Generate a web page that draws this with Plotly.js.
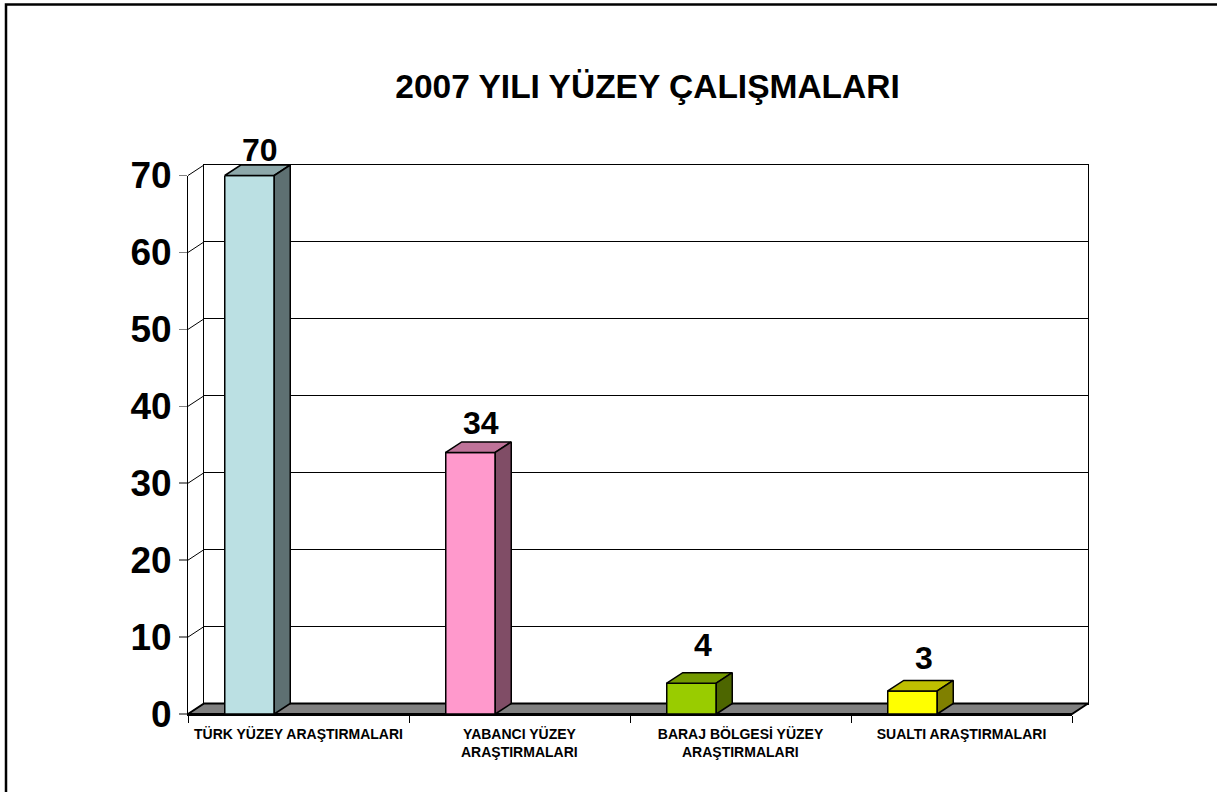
<!DOCTYPE html>
<html><head><meta charset="utf-8">
<script src="https://cdn.plot.ly/plotly-3.0.1.min.js"></script>
<style>html,body{margin:0;padding:0;background:#fff}#c{width:1217px;height:792px}</style>
</head><body><div id="c"></div>
<script>
const chartTitle = '2007 YILI YÜZEY ÇALIŞMALARI';
const labelLine1 = ['TÜRK YÜZEY ARAŞTIRMALARI', 'YABANCI YÜZEY', 'BARAJ BÖLGESİ YÜZEY', 'SUALTI ARAŞTIRMALARI'];
const labelLine2 = ['', 'ARAŞTIRMALARI', 'ARAŞTIRMALARI', ''];
const values = [70, 34, 4, 3];
const frontColors = ['#BBE0E3', '#FF99CC', '#99CC00', '#FFFF00'];
const topColors = ['#8DA8AA', '#BF7399', '#739900', '#BFBF00'];
const sideColors = ['#5E7072', '#804D66', '#4D6600', '#808000'];
const yTicks = [0, 10, 20, 30, 40, 50, 60, 70];
const catEdges = [0, 1, 2, 3, 4];

const pad = 4, W = 908, H = 557, mL = 184, mT = 161;
const depthPxX = 16, depthPxY = 10.5, frontW = 884, frontH = 538.5;
const kx = frontW / 4, ky = frontH / 70;
const dx = depthPxX / kx, dy = depthPxY / ky;
const barOffset = 61.5 / 221, barWidth = 49.5 / 221;
const edge = {color: '#000', width: 1.5};
const envX = [-pad / kx, 4 + dx + pad / kx], envY = [-pad / ky, 70 + dy + pad / ky];

const poly = (axes, x, y, fillcolor, line) => Object.assign({type: 'scatter', mode: 'lines', hoverinfo: 'skip', showlegend: false,
  x, y, fill: fillcolor ? 'toself' : 'none', fillcolor, line}, axes);
const under = {xaxis: 'x2', yaxis: 'y2'}, over = {xaxis: 'x4', yaxis: 'y4'};

const traces = [];
// invisible trace keeps the back plane subplot alive
traces.push({xaxis: 'x', yaxis: 'y', type: 'scatter', mode: 'none', x: [0], y: [0], hoverinfo: 'skip', showlegend: false});
traces.push(poly(under, [0, 4, 4 + dx, dx, 0], [0, 0, dy, dy, 0], '#808080', {color: '#000', width: 2}));
const dxs = [], dys = [];
yTicks.forEach(v => { dxs.push(0, dx, null); dys.push(v, v + dy, null); });
traces.push(poly(under, dxs, dys, null, {color: '#000', width: 1}));
traces.push({xaxis: 'x3', yaxis: 'y3', type: 'bar', showlegend: false, cliponaxis: false,
  x: values.map((v, i) => i + barOffset), y: values, width: barWidth,
  marker: {color: frontColors, line: edge}});
values.forEach((v, i) => {
  const l = i + barOffset - barWidth / 2, r = l + barWidth;
  traces.push(poly(over, [l, r, r + dx, l + dx, l], [v, v, v + dy, v + dy, v], topColors[i], edge));
  traces.push(poly(over, [r, r + dx, r + dx, r, r], [0, dy, v + dy, v, 0], sideColors[i], edge));
});

const valueShiftX = [2.5, 2, 3, 3];
const valueGap = [2.3, 6, 15, 9];
const annotations = values.map((v, i) => ({
  xref: 'x4', yref: 'y4', x: i + barOffset + dx / 2, y: v + dy, text: String(v), showarrow: false,
  xanchor: 'center', yanchor: 'bottom', xshift: valueShiftX[i], yshift: valueGap[i] - 7,
  font: {family: 'Liberation Sans', size: 32, color: '#000', weight: 700}
}));
labelLine2.forEach((t, i) => {
  if (!t) return;
  annotations.push({xref: 'x4', yref: 'y4', x: i + 0.5, y: 0, text: t, showarrow: false,
    xanchor: 'center', yanchor: 'middle', yshift: -38, font: {family: 'Liberation Sans', size: 14, color: '#000', weight: 700}});
});

const hidden = {showgrid: false, zeroline: false, showticklabels: false, ticks: '', showline: false, fixedrange: true};
const layout = {
  width: 1217, height: 792, autosize: false, showlegend: false,
  paper_bgcolor: '#fff', plot_bgcolor: 'rgba(0,0,0,0)',
  margin: {l: mL, r: 1217 - mL - W, t: mT, b: 792 - mT - H, pad: 0},
  title: {text: chartTitle, xref: 'container', yref: 'container', x: 647.5 / 1217, y: 1 - 86 / 792,
    xanchor: 'center', yanchor: 'middle', font: {family: 'Liberation Sans', size: 33.5, color: '#000', weight: 700}},
  // back wall
  xaxis: {domain: [(pad + depthPxX) / W, (pad + frontW + depthPxX) / W], range: [0, 4], anchor: 'y', showgrid: false, zeroline: false, showticklabels: false, ticks: '',
    showline: true, mirror: true, linecolor: '#000', linewidth: 1, fixedrange: true},
  yaxis: {domain: [(pad + depthPxY) / H, (pad + frontH + depthPxY) / H], range: [0, 70], anchor: 'x', tickmode: 'array', tickvals: yTicks, showticklabels: false, ticks: '',
    showgrid: true, gridcolor: '#000', gridwidth: 1, zeroline: false, showline: true, mirror: true, linecolor: '#000', linewidth: 1, fixedrange: true},
  // floor and left wall diagonals
  xaxis2: Object.assign({domain: [0, 1], range: envX, anchor: 'y2'}, hidden),
  yaxis2: Object.assign({domain: [0, 1], range: envY, anchor: 'x2'}, hidden),
  // front plane: the real axes and the bar fronts
  xaxis3: {domain: [pad / W, (pad + frontW) / W], range: [0, 4], anchor: 'y3', showgrid: false, zeroline: false, showline: true, linecolor: '#000', linewidth: 2,
    tickmode: 'array', tickvals: [0.5, 1.5, 2.5, 3.5], ticktext: labelLine1, ticks: '', ticklabelstandoff: 6,
    tickfont: {family: 'Liberation Sans', size: 14, color: '#000', weight: 700},
    minor: {tickmode: 'array', tickvals: catEdges, ticks: 'outside', ticklen: 7, tickwidth: 1, tickcolor: '#000', showgrid: false}, fixedrange: true},
  yaxis3: {domain: [pad / H, (pad + frontH) / H], range: [0, 70], anchor: 'x3', showgrid: false, zeroline: false, showline: true, linecolor: '#000', linewidth: 1,
    tickmode: 'array', tickvals: yTicks, ticks: 'outside', ticklen: 8, tickwidth: 1.5, tickcolor: '#808080',
    tickfont: {family: 'Liberation Sans', size: 37, color: '#000', weight: 700}, fixedrange: true},
  // bar tops and sides, value labels
  xaxis4: Object.assign({domain: [0, 1], range: envX, anchor: 'y4'}, hidden),
  yaxis4: Object.assign({domain: [0, 1], range: envY, anchor: 'x4'}, hidden),
  // frame: only the top and left edges are visible, running off the page
  shapes: [{type: 'rect', xref: 'paper', yref: 'paper', layer: 'below',
    x0: (6 - mL) / W, x1: (1240 - mL) / W, y0: -(820 - mT - H) / H, y1: 1 + (mT - 4.5) / H,
    line: {color: '#000', width: 2.5}, fillcolor: 'rgba(0,0,0,0)'}],
  annotations
};
Plotly.newPlot('c', traces, layout, {displayModeBar: false, staticPlot: true});
</script></body></html>
